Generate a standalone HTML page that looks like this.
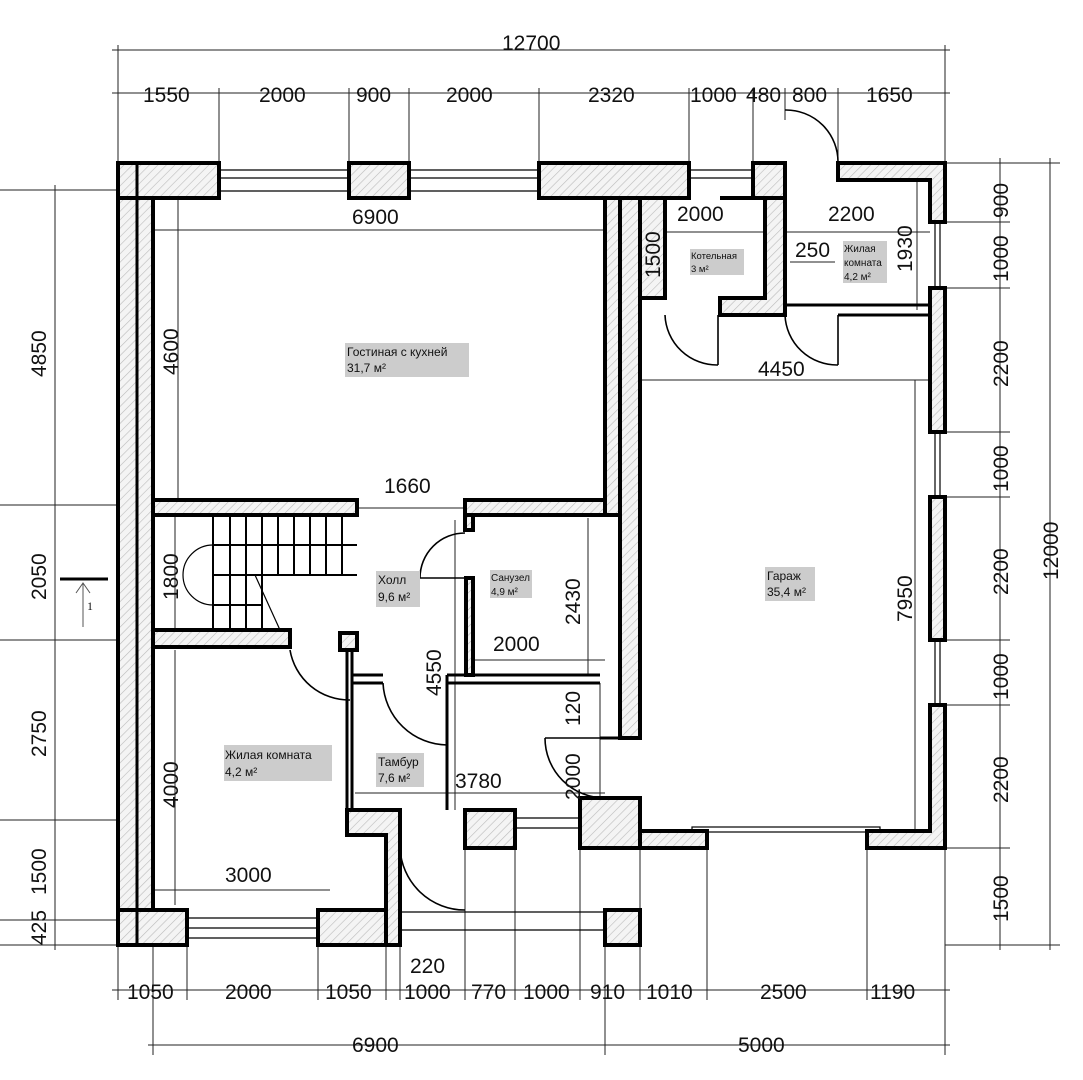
<!DOCTYPE html>
<html><head><meta charset="utf-8"><style>
body{margin:0;background:#fff}
svg{display:block}
text{font-family:"Liberation Sans",sans-serif;fill:#111}
.d{font-size:21px}
.r{font-size:12px}
</style></head><body>
<svg width="1083" height="1080" viewBox="0 0 1083 1080" xmlns="http://www.w3.org/2000/svg">
<defs>
<pattern id="h" width="6" height="6" patternUnits="userSpaceOnUse" patternTransform="rotate(45)">
<rect width="6" height="6" fill="#f4f4f4"/><line x1="0" y1="0" x2="0" y2="6" stroke="#bbb" stroke-width="1.2"/></pattern>
</defs>
<g stroke="#222" stroke-width="1" fill="none">
<!-- dimension lines -->
<line x1="112" y1="50" x2="950" y2="50"/>
<line x1="112" y1="93" x2="950" y2="93"/>
<g>
<line x1="118" y1="45" x2="118" y2="163"/><line x1="945" y1="45" x2="945" y2="163"/>
<line x1="219" y1="88" x2="219" y2="163"/><line x1="349" y1="88" x2="349" y2="163"/>
<line x1="409" y1="88" x2="409" y2="163"/><line x1="539" y1="88" x2="539" y2="163"/>
<line x1="689" y1="88" x2="689" y2="163"/><line x1="753" y1="88" x2="753" y2="163"/>
<line x1="785" y1="88" x2="785" y2="120"/><line x1="838" y1="88" x2="838" y2="163"/>
</g>
<line x1="112" y1="990" x2="950" y2="990"/>
<line x1="148" y1="1045" x2="950" y2="1045"/>
<g>
<line x1="118" y1="945" x2="118" y2="1000"/><line x1="153" y1="945" x2="153" y2="1055"/>
<line x1="187" y1="945" x2="187" y2="1000"/><line x1="318" y1="945" x2="318" y2="1000"/>
<line x1="386" y1="945" x2="386" y2="1000"/><line x1="400" y1="945" x2="400" y2="1000"/>
<line x1="465" y1="848" x2="465" y2="1000"/><line x1="515" y1="848" x2="515" y2="1000"/>
<line x1="580" y1="848" x2="580" y2="1000"/><line x1="605" y1="945" x2="605" y2="1055"/>
<line x1="640" y1="848" x2="640" y2="1000"/><line x1="707" y1="848" x2="707" y2="1000"/>
<line x1="867" y1="848" x2="867" y2="1000"/><line x1="945" y1="848" x2="945" y2="1055"/>
</g>
<line x1="1000" y1="158" x2="1000" y2="950"/>
<line x1="1050" y1="158" x2="1050" y2="950"/>
<g>
<line x1="945" y1="163" x2="1060" y2="163"/><line x1="945" y1="222" x2="1010" y2="222"/>
<line x1="945" y1="288" x2="1010" y2="288"/><line x1="945" y1="432" x2="1010" y2="432"/>
<line x1="945" y1="497" x2="1010" y2="497"/><line x1="945" y1="640" x2="1010" y2="640"/>
<line x1="945" y1="705" x2="1010" y2="705"/><line x1="945" y1="848" x2="1010" y2="848"/>
<line x1="945" y1="945" x2="1060" y2="945"/>
</g>
<line x1="55" y1="185" x2="55" y2="950"/>
<g>
<line x1="0" y1="190" x2="118" y2="190"/><line x1="0" y1="505" x2="118" y2="505"/>
<line x1="0" y1="640" x2="118" y2="640"/><line x1="0" y1="820" x2="118" y2="820"/>
<line x1="0" y1="920" x2="118" y2="920"/><line x1="0" y1="945" x2="118" y2="945"/>
</g>
<!-- inner dims -->
<line x1="150" y1="230" x2="612" y2="230"/>
<line x1="178" y1="195" x2="178" y2="505"/>
<line x1="357" y1="508" x2="470" y2="508"/>
<line x1="640" y1="232" x2="930" y2="232"/>
<line x1="660" y1="198" x2="660" y2="300"/>
<line x1="790" y1="262" x2="835" y2="262"/>
<line x1="917" y1="180" x2="917" y2="310"/>
<line x1="640" y1="380" x2="930" y2="380"/>
<line x1="915" y1="380" x2="915" y2="830"/>
<line x1="588" y1="518" x2="588" y2="675"/>
<line x1="470" y1="660" x2="605" y2="660"/>
<line x1="455" y1="520" x2="455" y2="810"/>
<line x1="355" y1="793" x2="605" y2="793"/>
<line x1="600" y1="683" x2="600" y2="800"/>
<line x1="175" y1="650" x2="175" y2="905"/>
<line x1="153" y1="890" x2="330" y2="890"/>
<line x1="175" y1="515" x2="175" y2="635"/>
</g>
<!-- walls -->
<g stroke="#000" stroke-width="4" fill="url(#h)">
<rect x="118" y="163" width="35" height="782"/>
<rect x="118" y="163" width="101" height="35"/>
<rect x="349" y="163" width="60" height="35"/>
<rect x="539" y="163" width="150" height="35"/>
<rect x="753" y="163" width="32" height="35"/>
<polygon points="838,163 945,163 945,222 930,222 930,180 838,180"/>
<rect x="930" y="288" width="15" height="144"/>
<rect x="930" y="497" width="15" height="143"/>
<polygon points="930,705 945,705 945,848 867,848 867,831 930,831"/>
<rect x="640" y="831" width="67" height="17"/>
<rect x="153" y="500" width="204" height="15"/>
<rect x="465" y="500" width="140" height="15"/>
<rect x="605" y="198" width="15" height="317"/>
<rect x="620" y="198" width="20" height="540"/>
<polygon points="580,798 640,798 640,848 580,848"/>
<rect x="465" y="810" width="50" height="38"/>
<rect x="605" y="910" width="35" height="35"/>
<rect x="153" y="630" width="137" height="17"/>
<rect x="340" y="633" width="17" height="17"/>
<polygon points="640,198 665,198 665,298 640,298"/>
<polygon points="720,198 785,198 785,315 720,315 720,298 765,298 765,198"/>
<polygon points="118,910 187,910 187,945 118,945"/>
<polygon points="318,910 386,910 386,945 318,945"/>
<polygon points="347,810 400,810 400,945 386,945 386,835 347,835"/>
<rect x="465" y="515" width="8" height="15"/>
<rect x="466" y="578" width="7" height="97"/>
</g>
<g stroke="#000" stroke-width="3" fill="none">
<line x1="137" y1="163" x2="137" y2="945"/>
<line x1="347" y1="650" x2="347" y2="810"/>
<line x1="352" y1="650" x2="352" y2="810"/>
<line x1="352" y1="675" x2="383" y2="675"/><line x1="352" y1="683" x2="383" y2="683"/>
<line x1="447" y1="675" x2="600" y2="675"/><line x1="447" y1="683" x2="600" y2="683"/>
<line x1="447" y1="675" x2="447" y2="810"/>
<line x1="785" y1="305" x2="930" y2="305"/><line x1="838" y1="315" x2="930" y2="315"/>
<line x1="640" y1="738" x2="600" y2="738"/>
</g>
<!-- windows thin -->
<g stroke="#000" stroke-width="1.2">
<line x1="219" y1="170" x2="349" y2="170"/><line x1="219" y1="178" x2="349" y2="178"/><line x1="219" y1="191" x2="349" y2="191"/>
<line x1="409" y1="170" x2="539" y2="170"/><line x1="409" y1="178" x2="539" y2="178"/><line x1="409" y1="191" x2="539" y2="191"/>
<line x1="689" y1="170" x2="753" y2="170"/><line x1="689" y1="178" x2="753" y2="178"/>
<line x1="935" y1="222" x2="935" y2="288"/><line x1="940" y1="222" x2="940" y2="288"/>
<line x1="935" y1="432" x2="935" y2="497"/><line x1="940" y1="432" x2="940" y2="497"/>
<line x1="935" y1="640" x2="935" y2="705"/><line x1="940" y1="640" x2="940" y2="705"/>
<line x1="187" y1="918" x2="318" y2="918"/><line x1="187" y1="928" x2="318" y2="928"/><line x1="187" y1="938" x2="318" y2="938"/>
<line x1="515" y1="818" x2="580" y2="818"/><line x1="515" y1="828" x2="580" y2="828"/>
<line x1="400" y1="912" x2="605" y2="912"/><line x1="400" y1="930" x2="605" y2="930"/>
<rect x="692" y="827" width="188" height="5" fill="none"/>
</g>
<!-- stairs -->
<g stroke="#000" stroke-width="2" fill="none">
<line x1="213" y1="545" x2="357" y2="545"/>
<line x1="213" y1="575" x2="357" y2="575"/>
<line x1="213" y1="515" x2="213" y2="630"/>
<line x1="230" y1="515" x2="230" y2="630"/><line x1="246" y1="515" x2="246" y2="630"/>
<line x1="262" y1="515" x2="262" y2="630"/><line x1="278" y1="515" x2="278" y2="575"/>
<line x1="294" y1="515" x2="294" y2="575"/><line x1="310" y1="515" x2="310" y2="575"/>
<line x1="326" y1="515" x2="326" y2="575"/><line x1="342" y1="515" x2="342" y2="575"/>
<line x1="213" y1="605" x2="262" y2="605"/>
<path d="M213 545 A30 30 0 0 0 213 605" stroke-width="1.2"/>
<line x1="255" y1="575" x2="280" y2="630" stroke-width="1.2"/>
</g>
<!-- doors -->
<g stroke="#000" stroke-width="1.6" fill="none">
<path d="M290 650 A60 60 0 0 0 350 700"/>
<path d="M383 683 A65 65 0 0 0 447 745"/>
<path d="M420 578 A45 45 0 0 1 465 533"/><line x1="420" y1="578" x2="466" y2="578"/>
<path d="M545 738 A60 60 0 0 0 605 798"/><line x1="545" y1="738" x2="600" y2="738"/>
<path d="M400 848 A65 65 0 0 0 465 910"/>
<path d="M665 315 A52 52 0 0 0 718 365"/><line x1="718" y1="315" x2="718" y2="365"/>
<path d="M785 315 A52 52 0 0 0 838 365"/><line x1="838" y1="315" x2="838" y2="365"/>
<path d="M785 110 A52 52 0 0 1 838 163"/>
</g>
<!-- section mark -->
<line x1="60" y1="579" x2="108" y2="579" stroke="#000" stroke-width="3"/>
<line x1="83" y1="583" x2="83" y2="627" stroke="#555" stroke-width="1"/>
<path d="M76 593 L83 583 L90 593" stroke="#555" fill="none"/>
<text x="87" y="610" font-size="12" style="font-family:'Liberation Serif',serif">1</text>
<!-- room labels -->
<g>
<rect x="345" y="343" width="124" height="34" fill="#ccc"/>
<text class="r" x="347" y="356" font-size="13">Гостиная с кухней</text>
<text class="r" x="347" y="372" font-size="13">31,7 м²</text>
<rect x="376" y="571" width="44" height="36" fill="#ccc"/>
<text class="r" x="378" y="584" font-size="13">Холл</text><text class="r" x="378" y="601" font-size="13">9,6 м²</text>
<rect x="490" y="570" width="42" height="28" fill="#ccc"/>
<text x="491" y="581" font-size="10">Санузел</text><text x="491" y="595" font-size="10">4,9 м²</text>
<rect x="765" y="567" width="50" height="34" fill="#ccc"/>
<text class="r" x="767" y="580" font-size="13">Гараж</text><text class="r" x="767" y="596" font-size="13">35,4 м²</text>
<rect x="690" y="249" width="54" height="26" fill="#ccc"/>
<text x="691" y="259" font-size="9.5">Котельная</text><text x="691" y="272" font-size="9.5">3 м²</text>
<rect x="843" y="241" width="44" height="42" fill="#ccc"/>
<text x="844" y="252" font-size="10">Жилая</text><text x="844" y="266" font-size="10">комната</text><text x="844" y="280" font-size="10">4,2 м²</text>
<rect x="224" y="745" width="108" height="36" fill="#ccc"/>
<text class="r" x="225" y="759" font-size="13">Жилая комната</text><text class="r" x="225" y="776" font-size="13">4,2 м²</text>
<rect x="376" y="753" width="48" height="34" fill="#ccc"/>
<text x="378" y="766" font-size="12">Тамбур</text><text x="378" y="782" font-size="12">7,6 м²</text>
</g>
<!-- dimension text -->
<g class="d">
<text x="502" y="50" class="d">12700</text>
<text x="143" y="102" class="d">1550</text><text x="259" y="102" class="d">2000</text>
<text x="356" y="102" class="d">900</text><text x="446" y="102" class="d">2000</text>
<text x="588" y="102" class="d">2320</text><text x="690" y="102" class="d">1000</text>
<text x="746" y="102" class="d">480</text><text x="792" y="102" class="d">800</text>
<text x="866" y="102" class="d">1650</text>
<text x="352" y="224" class="d">6900</text><text x="677" y="221" class="d">2000</text>
<text x="828" y="221" class="d">2200</text><text x="795" y="257" class="d">250</text>
<text x="758" y="376" class="d">4450</text><text x="384" y="493" class="d">1660</text>
<text x="493" y="651" class="d">2000</text><text x="455" y="788" class="d">3780</text>
<text x="225" y="882" class="d">3000</text><text x="410" y="973" class="d">220</text>
<text x="127" y="999" class="d">1050</text><text x="225" y="999" class="d">2000</text>
<text x="325" y="999" class="d">1050</text><text x="404" y="999" class="d">1000</text>
<text x="471" y="999" class="d">770</text><text x="523" y="999" class="d">1000</text>
<text x="590" y="999" class="d">910</text><text x="646" y="999" class="d">1010</text>
<text x="760" y="999" class="d">2500</text><text x="870" y="999" class="d">1190</text>
<text x="352" y="1052" class="d">6900</text><text x="738" y="1052" class="d">5000</text>
</g>
<g class="d">
<text transform="translate(46,377) rotate(-90)">4850</text>
<text transform="translate(46,600) rotate(-90)">2050</text>
<text transform="translate(46,757) rotate(-90)">2750</text>
<text transform="translate(46,895) rotate(-90)">1500</text>
<text transform="translate(46,945) rotate(-90)">425</text>
<text transform="translate(178,375) rotate(-90)">4600</text>
<text transform="translate(178,600) rotate(-90)">1800</text>
<text transform="translate(178,808) rotate(-90)">4000</text>
<text transform="translate(660,278) rotate(-90)">1500</text>
<text transform="translate(912,272) rotate(-90)">1930</text>
<text transform="translate(912,622) rotate(-90)">7950</text>
<text transform="translate(580,625) rotate(-90)">2430</text>
<text transform="translate(441,696) rotate(-90)">4550</text>
<text transform="translate(580,726) rotate(-90)">120</text>
<text transform="translate(580,800) rotate(-90)">2000</text>
<text transform="translate(1008,218) rotate(-90)">900</text>
<text transform="translate(1008,282) rotate(-90)">1000</text>
<text transform="translate(1008,387) rotate(-90)">2200</text>
<text transform="translate(1008,492) rotate(-90)">1000</text>
<text transform="translate(1008,595) rotate(-90)">2200</text>
<text transform="translate(1008,700) rotate(-90)">1000</text>
<text transform="translate(1008,803) rotate(-90)">2200</text>
<text transform="translate(1008,922) rotate(-90)">1500</text>
<text transform="translate(1058,580) rotate(-90)">12000</text>
</g>
</svg>
</body></html>
